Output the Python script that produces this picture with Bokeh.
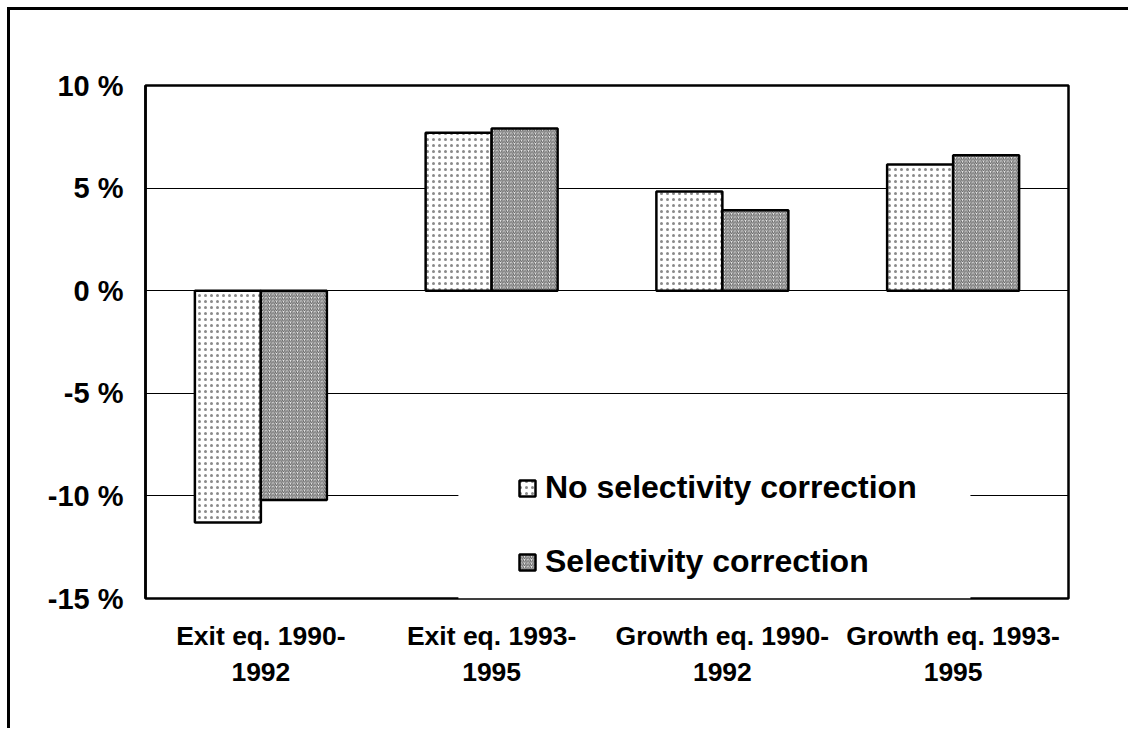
from bokeh.plotting import figure
from bokeh.models import (FactorRange, ColumnDataSource, FixedTicker, Legend, LegendItem,
                          BoxAnnotation)
from bokeh.transform import dodge
from bokeh.embed import file_html
from bokeh.resources import INLINE

categories = ["Exit eq. 1990-\n1992", "Exit eq. 1993-\n1995",
              "Growth eq. 1990-\n1992", "Growth eq. 1993-\n1995"]
no_selectivity = [-11.3, 7.7, 4.83, 6.15]
selectivity = [-10.2, 7.9, 3.92, 6.6]
series_names = ["No selectivity correction", "Selectivity correction"]
y_ticks = [-15, -10, -5, 0, 5, 10]
y_tick_labels = ["-15 %", "-10 %", "-5 %", "0 %", "5 %", "10 %"]

FONT = "Liberation Sans"

src = ColumnDataSource(dict(cat=categories, a=no_selectivity, b=selectivity))

p = figure(x_range=FactorRange(*categories, range_padding=0, factor_padding=0),
           y_range=(-15, 10), width=1121, height=721,
           output_backend="svg", toolbar_location=None,
           min_border_left=135, min_border_top=75, min_border_right=63, min_border_bottom=133,
           styles={"margin-top": "7px", "margin-left": "7px",
                   "border-top": "3px solid black", "border-left": "3px solid black"})

bw = 0.286
r1 = p.vbar(x=dodge("cat", -bw / 2, range=p.x_range), top="a", bottom=0, width=bw, source=src,
            fill_color="white", hatch_pattern="dot", hatch_color="#8a8a8a", hatch_scale=6,
            hatch_weight=0.8, line_color="black", line_width=2.5)
r2 = p.vbar(x=dodge("cat", bw / 2, range=p.x_range), top="b", bottom=0, width=bw, source=src,
            fill_color="#ededed", hatch_pattern="/", hatch_color="#5a5a5a", hatch_scale=3.5,
            hatch_weight=1, line_color="black", line_width=2.5)

# white legend background covering grid lines
p.add_layout(BoxAnnotation(left=1.356, right=3.575, top=-7.56, bottom=-15,
                           fill_color="white", fill_alpha=1, line_color=None, level="annotation"))

legend = Legend(items=[LegendItem(label=series_names[0], renderers=[r1]),
                       LegendItem(label=series_names[1], renderers=[r2])],
                location=(372, 18), orientation="vertical",
                glyph_width=20, glyph_height=20, label_standoff=8, spacing=37,
                padding=0, margin=0, border_line_color=None, background_fill_alpha=0,
                label_text_font=FONT, label_text_font_style="bold",
                label_text_font_size="32px", label_text_color="black")
p.add_layout(legend)

p.outline_line_color = "black"
p.outline_line_width = 2.5

p.xgrid.grid_line_color = None
p.ygrid.grid_line_color = "black"
p.ygrid.grid_line_width = 1
p.ygrid.ticker = FixedTicker(ticks=y_ticks)

p.yaxis.ticker = FixedTicker(ticks=y_ticks)
p.yaxis.major_label_overrides = {t: l for t, l in zip(y_ticks, y_tick_labels)}
p.yaxis.axis_line_color = "black"
p.yaxis.axis_line_width = 2.5
p.yaxis.major_tick_line_color = None
p.yaxis.minor_tick_line_color = None
p.yaxis.major_tick_out = 0
p.yaxis.major_label_standoff = 22
p.yaxis.major_label_text_font = FONT
p.yaxis.major_label_text_font_style = "bold"
p.yaxis.major_label_text_font_size = "29px"
p.yaxis.major_label_text_color = "black"

p.xaxis.axis_line_color = None
p.xaxis.major_tick_line_color = None
p.xaxis.minor_tick_line_color = None
p.xaxis.major_tick_out = 0
p.xaxis.major_label_standoff = 22
p.xaxis.major_label_text_font = FONT
p.xaxis.major_label_text_font_style = "bold"
p.xaxis.major_label_text_font_size = "26.5px"
p.xaxis.major_label_text_color = "black"
p.xaxis.major_label_orientation = "horizontal"

open("out.html", "w").write(file_html(p, INLINE))
